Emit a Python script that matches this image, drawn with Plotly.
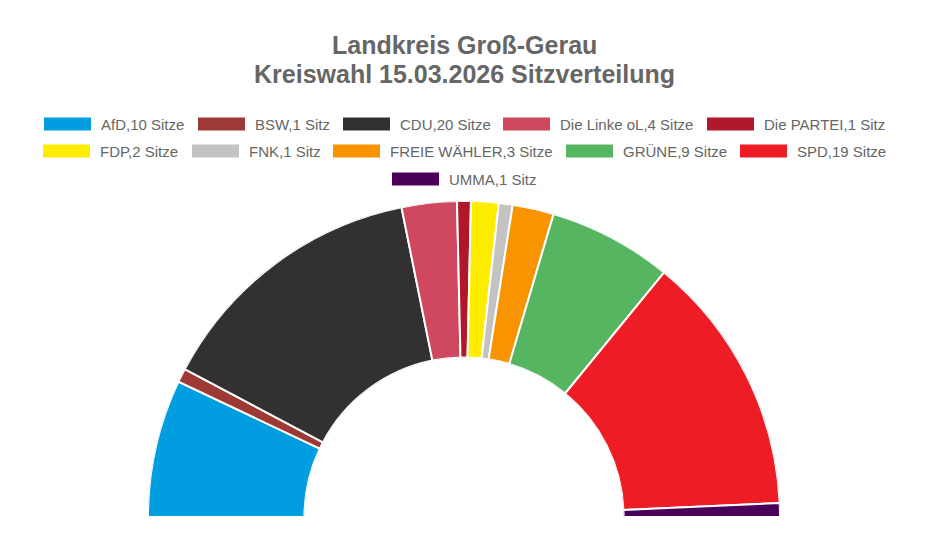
import plotly.graph_objects as go

parties = ["AfD", "BSW", "CDU", "Die Linke oL", "Die PARTEI", "FDP", "FNK",
           "FREIE WÄHLER", "GRÜNE", "SPD", "UMMA"]
seats = [10, 1, 20, 4, 1, 2, 1, 3, 9, 19, 1]
colors = ["#009ee0", "#9e3a36", "#323031", "#d04760", "#b0172a", "#ffed00",
          "#c3c3c3", "#f79400", "#56b560", "#ee1c25", "#4a0058"]

W, H = 925, 547
total = sum(seats)
fig = go.Figure()

start = 0
for name, n, c in zip(parties, seats, colors):
    width = n * 180 / total
    fig.add_trace(go.Barpolar(
        r=[1], theta=[start + width / 2], width=[width],
        marker=dict(color=c, line=dict(color="white", width=2)),
        name=f"{name},{n} {'Sitz' if n == 1 else 'Sitze'}",
        hovertemplate=f"{name}: {n}<extra></extra>",
        showlegend=False,
    ))
    start += width

# legend drawn by hand (rows centred like the original); page has an 8px body margin
off = 8
legend_left = [44, 198, 343, 503, 707, 43, 192, 333, 566, 740, 392]
legend_row_y = [124, 124, 124, 124, 124, 151, 151, 151, 151, 151, 179]
shapes, annotations = [], []
for name, n, c, lx, ly in zip(parties, seats, colors, legend_left, legend_row_y):
    lx, ly = lx - off, ly - off
    shapes.append(dict(
        type="rect", xref="paper", yref="paper",
        x0=lx / W, x1=(lx + 47) / W, y0=1 - (ly - 6.5) / H, y1=1 - (ly + 6.5) / H,
        fillcolor=c, line=dict(width=0),
    ))
    annotations.append(dict(
        text=f"{name},{n} {'Sitz' if n == 1 else 'Sitze'}",
        xref="paper", yref="paper", x=(lx + 55) / W, y=1 - ly / H,
        xanchor="left", yanchor="middle", showarrow=False,
        font=dict(size=15, color="#666"),
    ))

for txt, ty in [("Landkreis Groß-Gerau", 45),
                ("Kreiswahl 15.03.2026 Sitzverteilung", 74)]:
    annotations.append(dict(
        text=f"<b>{txt}</b>", xref="paper", yref="paper",
        x=(464 - off) / W, y=1 - (ty - off) / H, xanchor="center", yanchor="middle",
        showarrow=False, font=dict(size=25, color="#666"),
    ))

fig.update_layout(
    width=W, height=H,
    margin=dict(l=0, r=0, t=0, b=0),
    paper_bgcolor="white",
    font=dict(family="Liberation Sans, Arial, sans-serif", color="#666"),
    polar=dict(
        domain=dict(x=[140 / W, 772 / W], y=[38 / H, 354 / H]),
        sector=[0, 180],
        hole=0.505,
        bgcolor="white",
        angularaxis=dict(rotation=180, direction="clockwise", visible=False,
                         showgrid=False),
        radialaxis=dict(range=[0, 1], visible=False, showgrid=False),
    ),
    shapes=shapes,
    annotations=annotations,
    showlegend=False,
)

fig.write_html("out.html")
